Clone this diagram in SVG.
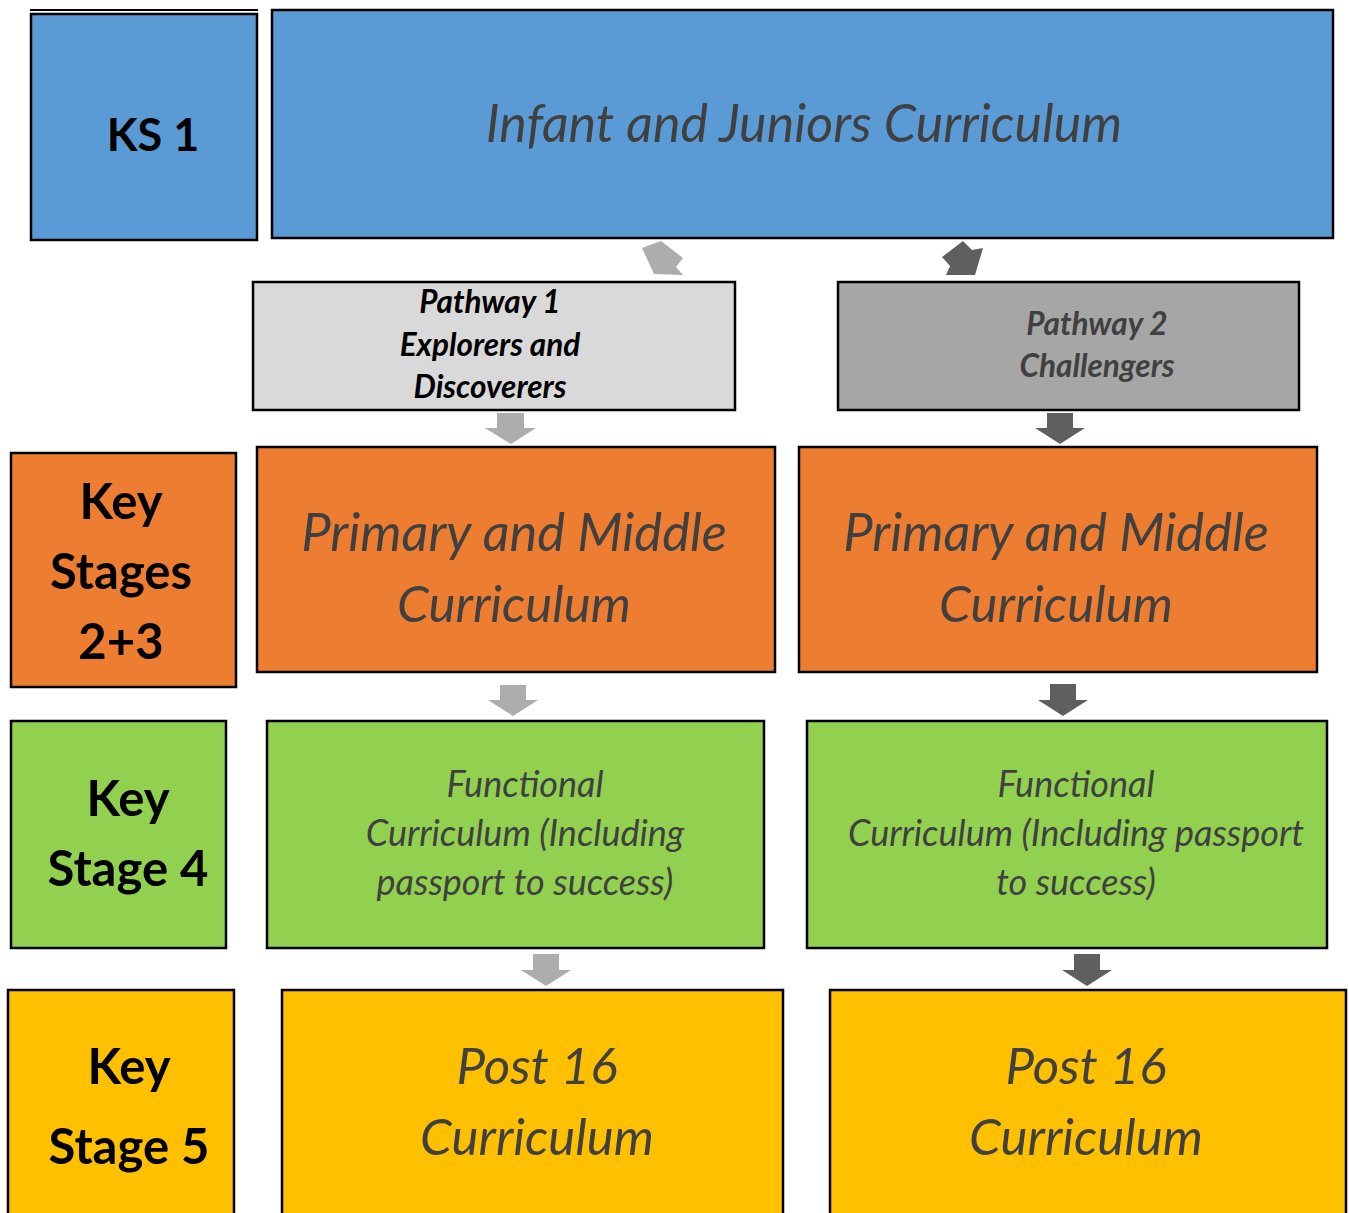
<svg xmlns="http://www.w3.org/2000/svg" width="1349" height="1213" viewBox="0 0 1349 1213">
<style>
.box{stroke:#000;stroke-width:2.5}
.blue{fill:#5B9BD5}.orange{fill:#ED7D31}.green{fill:#92D050}.yellow{fill:#FFC000}
.lbl{font-family:Lato,"Liberation Sans",sans-serif;font-weight:bold;fill:#000;text-anchor:middle;font-size:49px}
.cur{font-family:Lato,"Liberation Sans",sans-serif;font-style:italic;fill:#404040;text-anchor:middle;font-size:51px}
.pm{font-size:52.5px}
.fn{font-size:36px}
.pw{font-family:Lato,"Liberation Sans",sans-serif;font-style:italic;font-weight:bold;text-anchor:middle;font-size:31.5px}
.light{fill:#ADADAD}.dark{fill:#5F5F5F}
</style>
<rect width="1349" height="1213" fill="#fff"/>
<g id="ks1">
<line x1="30" y1="10" x2="258" y2="10" stroke="#000" stroke-width="2"/>
<rect class="box blue" x="31" y="14" width="226" height="226"/>
<text class="lbl" x="153" y="151" style="font-size:45px">KS 1</text>
</g>
<g id="infant">
<rect class="box blue" x="272" y="10" width="1061" height="228"/>
<text class="cur" x="804" y="142" style="font-size:52px">Infant and Juniors Curriculum</text>
</g>
<g id="pathway1">
<rect class="box" fill="#D9D9D9" x="253" y="282" width="482" height="128"/>
<text class="pw" fill="#000" x="490" y="313">Pathway 1</text>
<text class="pw" fill="#000" x="490" y="356">Explorers and</text>
<text class="pw" fill="#000" x="490" y="398">Discoverers</text>
</g>
<g id="pathway2">
<rect class="box" fill="#A6A6A6" x="838" y="282" width="461" height="128"/>
<text class="pw" fill="#404040" x="1097" y="335">Pathway 2</text>
<text class="pw" fill="#404040" x="1097" y="377">Challengers</text>
</g>
<g id="ks23">
<rect class="box orange" x="11" y="453" width="225" height="234"/>
<text class="lbl" x="121" y="519">Key</text>
<text class="lbl" x="121" y="589">Stages</text>
<text class="lbl" x="121" y="659">2+3</text>
</g>
<g id="primary1">
<rect class="box orange" x="257" y="447" width="518" height="225"/>
<text class="cur pm" x="514" y="551">Primary and Middle</text>
<text class="cur" x="514" y="622">Curriculum</text>
</g>
<g id="primary2">
<rect class="box orange" x="799" y="447" width="518" height="225"/>
<text class="cur pm" x="1056" y="551">Primary and Middle</text>
<text class="cur" x="1056" y="622">Curriculum</text>
</g>
<g id="ks4">
<rect class="box green" x="11" y="721" width="215" height="227"/>
<text class="lbl" x="128" y="816">Key</text>
<text class="lbl" x="128" y="886">Stage 4</text>
</g>
<g id="functional1">
<rect class="box green" x="267" y="721" width="497" height="227"/>
<text class="cur fn" x="525" y="797">Functional</text>
<text class="cur fn" x="525" y="846">Curriculum (Including</text>
<text class="cur fn" x="525" y="895">passport to success)</text>
</g>
<g id="functional2">
<rect class="box green" x="807" y="721" width="520" height="227"/>
<text class="cur fn" x="1076" y="797">Functional</text>
<text class="cur fn" x="1076" y="846">Curriculum (Including passport</text>
<text class="cur fn" x="1076" y="895">to success)</text>
</g>
<g id="ks5">
<rect class="box yellow" x="8" y="990" width="226" height="230"/>
<text class="lbl" x="129" y="1084">Key</text>
<text class="lbl" x="129" y="1164">Stage 5</text>
</g>
<g id="post16a">
<rect class="box yellow" x="282" y="990" width="501" height="230"/>
<text class="cur" x="537" y="1084">Post 16</text>
<text class="cur" x="537" y="1155">Curriculum</text>
</g>
<g id="post16b">
<rect class="box yellow" x="830" y="990" width="516" height="230"/>
<text class="cur" x="1086" y="1084">Post 16</text>
<text class="cur" x="1086" y="1155">Curriculum</text>
</g>
<g id="connectors">
<polygon class="light" points="642,248 661,241 683,258 676,267 683,275 654,274"/>
<polygon class="dark" points="942,257 963,241 972,250 983,248 975,275 946,275 950,266"/>
<polygon class="light" points="497,413 524,413 524,428 536,428 511,444 485,428 497,428"/>
<polygon class="dark" points="1047,413 1073,413 1073,428 1085,428 1060,444 1035,428 1047,428"/>
<polygon class="light" points="500,685 526,685 526,700 538,700 513,716 488,700 500,700"/>
<polygon class="dark" points="1050,684 1076,684 1076,700 1088,700 1063,716 1038,700 1050,700"/>
<polygon class="light" points="533,954 559,954 559,970 571,970 546,986 521,970 533,970"/>
<polygon class="dark" points="1074,954 1100,954 1100,970 1112,970 1087,986 1062,970 1074,970"/>
</g>
</svg>
